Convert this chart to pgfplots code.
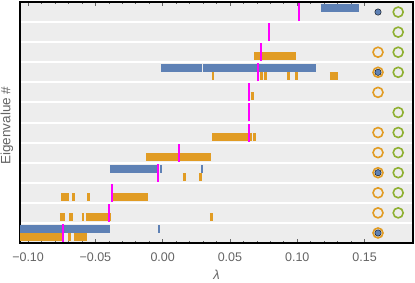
\documentclass[border=0pt]{standalone}
\usepackage{fontspec}
\setmainfont{Liberation Sans}
\usepackage{pgfplots}
\pgfplotsset{compat=1.18}
\definecolor{mblue}{RGB}{94,129,181}
\definecolor{morange}{RGB}{225,156,36}
\definecolor{mgreen}{RGB}{143,176,50}
\definecolor{mmagenta}{RGB}{255,0,255}
\definecolor{rowgray}{RGB}{237,237,237}
\definecolor{txtgray}{RGB}{100,100,100}
\begin{document}
\begin{tikzpicture}
\path[use as bounding box] (-20bp,-40bp) rectangle (395bp,243bp);
\begin{axis}[
  at={(0,0)}, anchor=south west,
  scale only axis, width=393bp, height=241bp,
  xmin=-0.106, xmax=0.186, ymin=0.5, ymax=12.5,
  axis background/.style={fill=rowgray},
  axis line style={black, line width=1.2bp},
  xtick={-0.1,-0.05,0,0.05,0.1,0.15},
  xticklabels={−0.10,−0.05,0.00,0.05,0.10,0.15},
  minor x tick num=4,
  major tick length=4bp, minor tick length=2.5bp,
  x tick style={txtgray, line width=0.6bp},
  ytick={1.5,2.5,3.5,4.5,5.5,6.5,7.5,8.5,9.5,10.5,11.5}, yticklabels={},
  ymajorgrids,
  y tick style={draw=none},
  major grid style={white, line width=2bp},
  xticklabel style={anchor=base, yshift=-18bp, font=\fontsize{12.5bp}{14bp}\selectfont, text=txtgray},
  xlabel={\textit{λ}},
  xlabel style={at={(axis description cs:0.5,-0.1494)}, anchor=base, font=\fontsize{13bp}{15bp}\selectfont, text=txtgray},
  ylabel={Eigenvalue \#},
  ylabel style={at={(axis description cs:-0.0331,0.487)}, anchor=center, font=\fontsize{13.5bp}{15bp}\selectfont, text=txtgray},
  unbounded coords=jump,
]
% blue bars (upper half of each row)
\addplot[mblue, line width=8bp, line cap=butt] coordinates {
 (0.1174,12.2) (0.1461,12.2) (nan,nan)
 (-0.0013,9.2) (0.0292,9.2) (nan,nan)
 (0.0300,9.2) (0.1140,9.2) (nan,nan)
 (-0.0392,4.2) (-0.0033,4.2) (nan,nan)
 (-0.0020,4.2) (-0.0008,4.2) (nan,nan)
 (0.0287,4.2) (0.0299,4.2) (nan,nan)
 (-0.1060,1.2) (-0.0392,1.2) (nan,nan)
 (-0.0031,1.2) (-0.0021,1.2)
};
% orange bars (lower half of each row)
\addplot[morange, line width=8bp, line cap=butt] coordinates {
 (0.0681,9.8) (0.0993,9.8) (nan,nan)
 (0.0364,8.8) (0.0379,8.8) (nan,nan)
 (0.0723,8.8) (0.0743,8.8) (nan,nan)
 (0.0753,8.8) (0.0773,8.8) (nan,nan)
 (0.0923,8.8) (0.0944,8.8) (nan,nan)
 (0.0983,8.8) (0.1003,8.8) (nan,nan)
 (0.1243,8.8) (0.1302,8.8) (nan,nan)
 (0.0654,7.8) (0.0681,7.8) (nan,nan)
 (0.0368,5.8) (0.0666,5.8) (nan,nan)
 (0.0673,5.8) (0.0693,5.8) (nan,nan)
 (-0.0122,4.8) (0.0359,4.8) (nan,nan)
 (0.0151,3.8) (0.0171,3.8) (nan,nan)
 (0.0270,3.8) (0.0290,3.8) (nan,nan)
 (-0.0753,2.8) (-0.0693,2.8) (nan,nan)
 (-0.0674,2.8) (-0.0651,2.8) (nan,nan)
 (-0.0562,2.8) (-0.0542,2.8) (nan,nan)
 (-0.0384,2.8) (-0.0111,2.8) (nan,nan)
 (-0.0763,1.8) (-0.0724,1.8) (nan,nan)
 (-0.0694,1.8) (-0.0664,1.8) (nan,nan)
 (-0.0602,1.8) (-0.0585,1.8) (nan,nan)
 (-0.0572,1.8) (-0.0384,1.8) (nan,nan)
 (0.0351,1.8) (0.0371,1.8) (nan,nan)
 (-0.1060,0.8) (-0.0750,0.8) (nan,nan)
 (-0.0704,0.8) (-0.0681,0.8) (nan,nan)
 (-0.0661,0.8) (-0.0560,0.8)
};
% magenta markers
\addplot[mmagenta, line width=1.8bp, line cap=butt] coordinates {
 (0.1015,11.55) (0.1015,12.45) (nan,nan)
 (0.0790,10.55) (0.0790,11.45) (nan,nan)
 (0.0728,9.55) (0.0728,10.45) (nan,nan)
 (0.0708,8.55) (0.0708,9.45) (nan,nan)
 (0.0641,7.55) (0.0641,8.45) (nan,nan)
 (0.0639,6.55) (0.0639,7.45) (nan,nan)
 (0.0641,5.55) (0.0641,6.45) (nan,nan)
 (0.0119,4.55) (0.0119,5.45) (nan,nan)
 (-0.0037,3.55) (-0.0037,4.45) (nan,nan)
 (-0.0379,2.55) (-0.0379,3.45) (nan,nan)
 (-0.0397,1.55) (-0.0397,2.45) (nan,nan)
 (-0.0743,0.55) (-0.0743,1.45)
};
% orange circles
\addplot[only marks, mark=o, mark size=5bp, mark options={draw=morange, line width=1.6bp}] coordinates {
 (0.16,10) (0.16,9) (0.16,8) (0.16,6) (0.16,5) (0.16,4) (0.16,3) (0.16,2) (0.16,1)
};
% green circles
\addplot[only marks, mark=o, mark size=5bp, mark options={draw=mgreen, line width=1.6bp}] coordinates {
 (0.175,12) (0.175,11) (0.175,10) (0.175,9) (0.175,7) (0.175,6) (0.175,5) (0.175,4) (0.175,3) (0.175,2)
};
% blue dots
\addplot[only marks, mark=*, mark size=3.2bp, mark options={draw=none, fill=mblue}] coordinates {
 (0.16,12) (0.16,9) (0.16,4) (0.16,1)
};
\end{axis}
\end{tikzpicture}
\end{document}
